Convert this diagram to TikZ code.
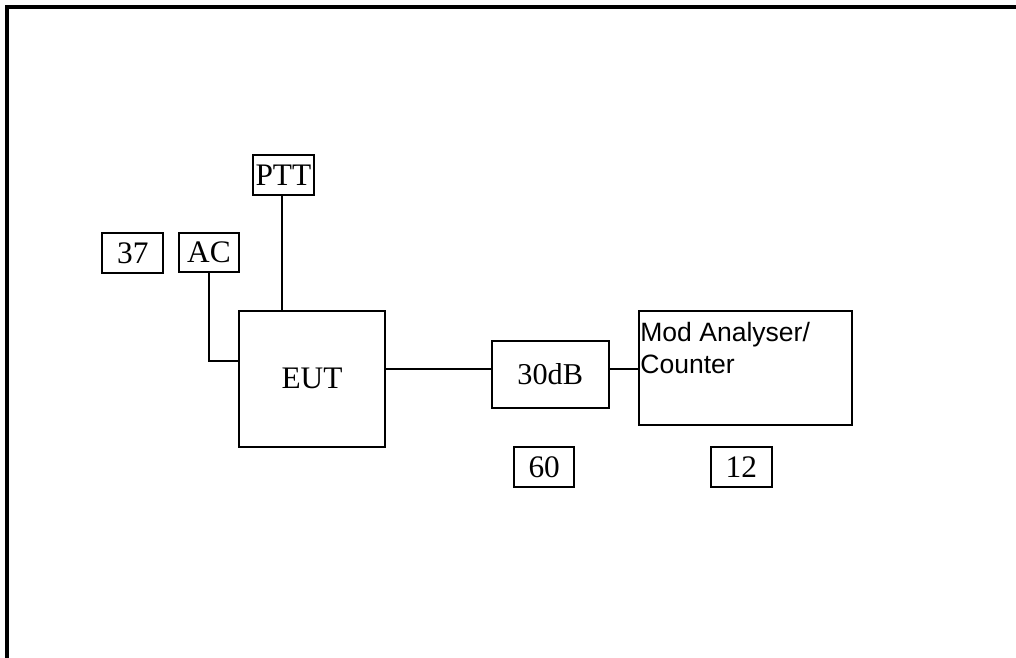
\documentclass[tikz,border=0pt]{standalone}
\usepackage{fontspec}
\setmainfont{Liberation Serif}
\setsansfont{Liberation Sans}
\begin{document}
\begin{tikzpicture}[x=0.75pt,y=-0.75pt,
  box/.style={draw,line width=1.5pt,rectangle,inner sep=0pt,font=\fontsize{23.5pt}{26pt}\selectfont},
  wire/.style={line width=1.5pt},
  frame/.style={line width=3pt}]
\useasboundingbox (0,0) rectangle (1016,657);
\coordinate (fbl) at (7,660);
\coordinate (ftl) at (7,7);
\coordinate (ftr) at (1020,7);
\draw[frame] (fbl) -- (ftl) -- (ftr);

\node[box,minimum width=45.75pt,minimum height=30pt] (n37) at (132.8,253.3) {37};
\node[box,minimum width=45.5pt,minimum height=29.7pt] (AC) at (209,252.5) {AC};
\node[box,minimum width=46pt,minimum height=30pt] (PTT) at (283.4,175) {PTT};
\node[box,minimum width=110pt,minimum height=102pt] (EUT) at (312,378.7) {EUT};
\node[box,minimum width=87.75pt,minimum height=50.7pt,font=\fontsize{22.7pt}{25pt}\selectfont] (dB) at (550.2,374.5) {30dB};
\node[box,minimum width=160.2pt,minimum height=85.7pt] (Mod) at (745.5,367.8) {};
\node[anchor=north west,inner sep=0pt,align=left,font=\sffamily\fontsize{19.9pt}{23.8pt}\selectfont,xshift=1.8pt,yshift=-9.5pt] (modtext) at (Mod.north west) {Mod Analyser/\\Counter};
\node[box,minimum width=45.2pt,minimum height=30pt] (n60) at (544.2,467.3) {60};
\node[box,minimum width=45.5pt,minimum height=30pt] (n12) at (741.3,467.3) {12};

\draw[wire] (AC.south) |- ([yshift=13.3pt]EUT.west);
\draw[wire] ([xshift=-1.3pt]PTT.south) -- ([xshift=-1.3pt]PTT.south |- EUT.north);
\draw[wire] ([yshift=7pt]EUT.east) -- ([yshift=7pt]EUT.east -| dB.west);
\draw[wire] ([yshift=3.9pt]dB.east) -- ([yshift=3.9pt]dB.east -| Mod.west);
\end{tikzpicture}
\end{document}
